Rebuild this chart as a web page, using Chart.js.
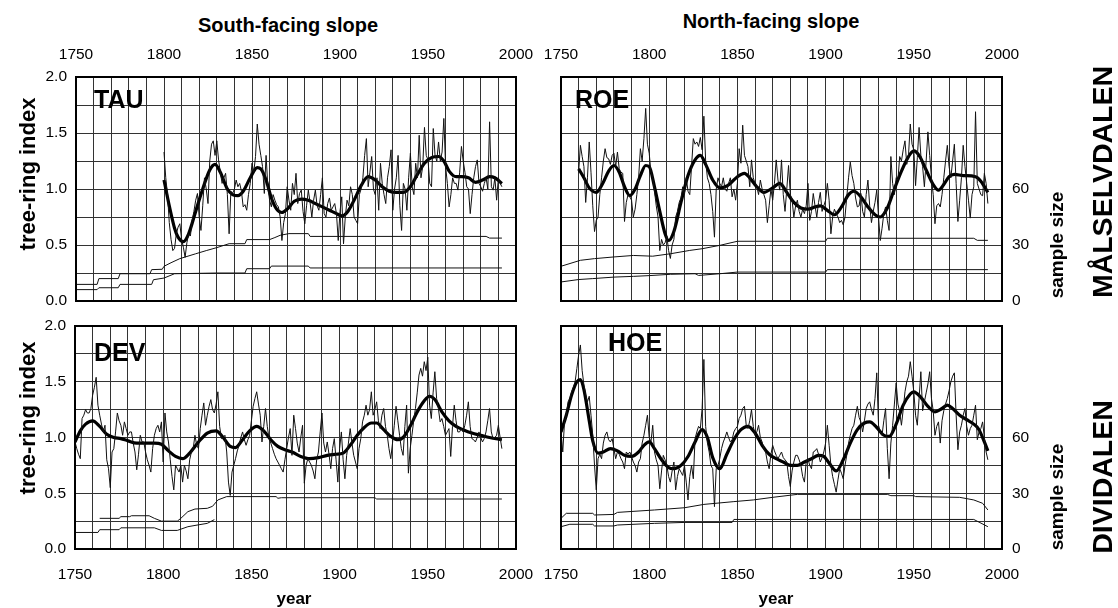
<!DOCTYPE html>
<html>
<head>
<meta charset="utf-8">
<script src="https://cdn.jsdelivr.net/npm/chart.js"></script>
<style>
  html, body { margin: 0; padding: 0; background: #fff; }
  body { width: 1118px; height: 608px; position: relative; overflow: hidden; font-family: 'Liberation Sans', Arial, sans-serif; color: #000; }
  canvas { position: absolute; }
  .lbl { position: absolute; font-weight: bold; white-space: nowrap; line-height: 1; z-index: 2; }
  .ctr { transform: translate(-50%, -50%); }
  .rot { transform: translate(-50%, -50%) rotate(-90deg); }
</style>
</head>
<body>
<canvas id="tau" width="540" height="272" style="left:0;top:40px"></canvas>
<canvas id="roe" width="578" height="272" style="left:540px;top:40px"></canvas>
<canvas id="dev" width="540" height="296" style="left:0;top:312px"></canvas>
<canvas id="hoe" width="578" height="296" style="left:540px;top:312px"></canvas>

<div class="lbl ctr" style="left:288px;top:25px;font-size:20px">South-facing slope</div>
<div class="lbl ctr" style="left:771px;top:21px;font-size:20px">North-facing slope</div>
<div class="lbl" style="left:94px;top:87px;font-size:25px">TAU</div>
<div class="lbl" style="left:575px;top:87px;font-size:25px">ROE</div>
<div class="lbl" style="left:94px;top:340px;font-size:25px">DEV</div>
<div class="lbl" style="left:608px;top:330px;font-size:25px">HOE</div>
<div class="lbl rot" style="left:28px;top:174px;font-size:22px">tree-ring index</div>
<div class="lbl rot" style="left:28px;top:418px;font-size:22px">tree-ring index</div>
<div class="lbl ctr" style="left:294px;top:598px;font-size:17px">year</div>
<div class="lbl ctr" style="left:776px;top:598px;font-size:17px">year</div>
<div class="lbl rot" style="left:1056px;top:245px;font-size:19px">sample size</div>
<div class="lbl rot" style="left:1056px;top:497px;font-size:19px">sample size</div>
<div class="lbl rot" style="left:1102px;top:182px;font-size:28.5px">MÅLSELVDALEN</div>
<div class="lbl rot" style="left:1102px;top:477px;font-size:28.5px">DIVIDALEN</div>

<script>
// ---- annual tree-ring index (one value per year from the start year) ----
const tauStart = 1800;
const tauRing = [
  1.33, 1.10, 0.95, 0.70, 0.55, 0.45, 0.47, 0.60, 0.66, 0.69,
  0.55, 0.48, 0.39, 0.52, 0.60, 0.58, 0.72, 0.80, 0.90, 0.96,
  0.75, 0.63, 0.85, 1.10, 1.00, 0.87, 1.25, 1.40, 1.43, 1.30,
  1.43, 1.26, 1.15, 1.05, 1.10, 1.14, 0.95, 0.60, 0.98, 0.96,
  1.00, 1.08, 1.02, 1.05, 0.98, 0.84, 0.86, 0.81, 0.95, 1.05,
  1.23, 1.15, 1.29, 1.58, 1.40, 1.30, 1.20, 0.96, 1.30, 1.02,
  0.90, 0.84, 0.95, 0.90, 0.86, 0.84, 0.75, 0.54, 0.70, 0.78,
  1.02, 0.90, 0.81, 1.05, 0.95, 1.14, 0.87, 0.96, 0.99, 0.80,
  0.69, 0.85, 0.99, 0.88, 0.75, 0.90, 0.99, 0.85, 0.81, 0.95,
  1.10, 0.78, 0.75, 0.87, 0.92, 0.81, 0.84, 0.87, 0.78, 0.54,
  0.80, 0.93, 0.51, 0.75, 0.90, 0.85, 1.02, 0.95, 0.75, 0.72,
  0.69, 0.95, 1.00, 1.10, 1.30, 1.45, 1.02, 1.15, 1.29, 1.00,
  0.95, 1.10, 0.81, 1.23, 1.05, 0.95, 0.87, 1.10, 1.20, 1.35,
  0.81, 1.00, 1.10, 1.30, 0.85, 0.63, 1.05, 1.00, 0.81, 1.10,
  1.32, 1.02, 0.95, 1.23, 1.10, 1.48, 1.10, 1.20, 1.55, 1.30,
  1.26, 1.05, 1.02, 1.54, 1.30, 1.25, 1.42, 1.25, 1.33, 1.63,
  1.20, 1.05, 0.84, 0.95, 1.10, 1.05, 1.05, 0.99, 1.15, 1.38,
  1.25, 1.15, 1.02, 1.00, 0.78, 0.95, 1.10, 1.20, 1.26, 1.05,
  1.02, 0.98, 1.05, 1.10, 1.00, 1.60, 1.02, 0.99, 1.10, 0.90,
  1.10, 1.05, 1.02
];
const roeStart = 1760;
const roeRing = [
  1.15, 1.39, 1.29, 1.20, 0.88, 1.10, 1.42, 1.15, 0.85, 0.62,
  0.72, 0.75, 0.95, 1.10, 1.25, 1.36, 1.28, 1.27, 1.22, 1.30,
  1.32, 1.20, 1.33, 1.18, 1.15, 1.14, 0.71, 0.88, 0.95, 0.93,
  0.90, 0.75, 0.82, 0.95, 1.10, 1.36, 1.25, 1.45, 1.72, 1.40,
  1.32, 1.15, 1.10, 0.98, 0.85, 0.75, 0.45, 0.55, 0.50, 0.52,
  0.58, 0.45, 0.38, 0.50, 0.55, 0.75, 0.80, 0.88, 0.92, 1.02,
  0.95, 1.10, 0.98, 0.95, 1.20, 1.45, 1.40, 1.42, 1.38, 1.46,
  1.35, 1.65, 1.25, 1.10, 1.05, 0.95, 0.80, 0.57, 1.00, 1.10,
  1.05, 1.02, 1.10, 1.00, 0.98, 1.05, 1.10, 0.93, 1.00, 0.90,
  1.05, 1.36, 1.23, 1.57, 1.30, 1.25, 1.20, 1.02, 1.26, 1.10,
  1.05, 1.02, 0.95, 1.08, 1.00, 0.95, 0.90, 0.70, 0.85, 1.00,
  0.90, 1.05, 1.26, 1.08, 0.99, 1.26, 0.95, 0.80, 1.00, 1.21,
  0.95, 0.90, 0.75, 0.85, 0.90, 0.80, 0.75, 0.82, 0.78, 0.85,
  1.05, 0.72, 0.80, 0.96, 0.85, 0.75, 0.88, 0.97, 0.80, 0.85,
  0.90, 1.05, 0.90, 0.60, 0.75, 0.82, 0.78, 0.75, 0.70, 0.72,
  0.68, 0.75, 0.93, 1.10, 1.24, 1.12, 1.05, 0.92, 0.84, 0.85,
  0.96, 0.80, 0.75, 0.95, 1.08, 0.85, 0.70, 0.80, 0.88, 0.99,
  0.75, 0.54, 0.65, 0.78, 0.84, 0.72, 0.63, 1.29, 1.05, 0.95,
  1.10, 1.08, 1.29, 1.25, 1.35, 1.43, 1.22, 1.30, 1.58, 1.40,
  1.35, 1.03, 1.28, 1.55, 1.30, 1.20, 1.02, 1.25, 1.51, 1.30,
  1.10, 0.95, 0.69, 0.85, 0.87, 0.84, 0.95, 1.10, 1.25, 1.39,
  1.20, 1.10, 1.25, 1.40, 1.05, 0.71, 0.90, 1.10, 1.39, 1.20,
  1.05, 0.90, 0.74, 0.95, 1.02, 1.69, 1.05, 1.00, 0.95, 0.94,
  1.14, 1.05, 0.87
];
const devStart = 1750;
const devRing = [
  0.96, 0.90, 0.85, 0.81, 1.17, 1.20, 1.25, 1.22, 1.22, 1.26,
  1.38, 1.45, 1.54, 1.29, 1.20, 1.12, 1.05, 1.11, 0.80, 0.72,
  0.55, 0.87, 0.90, 1.05, 1.22, 1.15, 1.11, 1.02, 1.14, 1.08,
  1.02, 1.05, 1.05, 0.95, 0.87, 0.71, 0.85, 1.02, 0.96, 0.96,
  0.87, 0.80, 0.75, 0.69, 0.90, 1.02, 1.08, 1.11, 1.05, 1.14,
  0.78, 1.22, 1.05, 0.96, 0.80, 0.65, 0.53, 0.75, 0.72, 0.69,
  0.75, 0.60, 0.75, 0.70, 0.63, 0.80, 0.87, 0.90, 1.02, 0.93,
  0.90, 1.08, 1.20, 1.31, 1.11, 1.20, 1.28, 1.34, 1.25, 1.22,
  1.30, 1.41, 1.10, 0.99, 1.00, 1.02, 0.87, 0.60, 0.48, 0.69,
  0.75, 0.81, 0.88, 0.93, 1.00, 1.05, 0.98, 0.93, 0.98, 1.02,
  1.15, 1.28, 1.35, 1.41, 1.30, 1.20, 0.96, 1.10, 1.26, 1.10,
  0.99, 0.95, 0.90, 0.85, 0.81, 0.78, 0.75, 0.72, 0.69, 0.80,
  0.90, 1.00, 1.08, 0.84, 1.20, 1.08, 0.95, 0.87, 1.00, 1.11,
  0.59, 0.75, 0.81, 0.78, 0.75, 0.70, 0.63, 0.80, 0.87, 1.05,
  1.22, 0.95, 0.87, 0.96, 0.85, 0.72, 0.90, 0.99, 0.80, 0.60,
  0.90, 1.05, 0.80, 0.63, 0.84, 0.95, 1.08, 0.95, 0.84, 0.78,
  0.72, 0.90, 0.99, 1.14, 1.20, 1.29, 1.20, 1.25, 1.41, 1.20,
  1.25, 1.32, 1.15, 1.08, 1.20, 1.26, 1.10, 1.02, 0.90, 0.81,
  0.95, 1.11, 1.28, 1.15, 1.02, 0.90, 0.84, 1.10, 1.29, 0.68,
  0.90, 1.02, 1.15, 1.26, 1.40, 1.56, 1.62, 1.55, 1.68, 1.60,
  1.72, 1.29, 1.17, 1.40, 1.59, 1.35, 1.26, 1.14, 1.17, 1.10,
  1.02, 1.05, 1.08, 0.83, 1.10, 1.29, 1.15, 1.05, 1.05, 1.08,
  1.05, 1.11, 1.20, 1.32, 1.10, 0.99, 0.98, 0.96, 1.00, 1.05,
  1.00, 0.96, 0.99, 1.05, 1.15, 1.26, 1.05, 0.99, 1.00, 1.02,
  1.11, 1.00, 0.90
];
const hoeStart = 1750;
const hoeRing = [
  1.05, 0.87, 1.14, 1.20, 1.32, 1.35, 1.41, 1.45, 1.50, 1.62,
  1.74, 1.83, 1.60, 1.47, 1.38, 1.32, 1.37, 1.20, 1.02, 0.75,
  0.53, 0.81, 0.85, 0.81, 0.95, 1.02, 1.05, 0.98, 0.96, 0.99,
  0.90, 0.81, 0.87, 0.85, 0.81, 0.78, 0.72, 0.87, 0.85, 0.87,
  0.83, 0.78, 0.75, 0.69, 0.78, 0.81, 0.95, 1.02, 1.11, 1.20,
  1.00, 0.96, 1.11, 0.87, 0.80, 0.75, 0.54, 0.70, 0.84, 0.80,
  0.75, 0.65, 0.60, 0.70, 0.78, 0.53, 0.65, 0.72, 0.69, 0.66,
  0.75, 0.60, 0.44, 0.65, 0.75, 0.63, 0.99, 1.05, 1.10, 1.08,
  1.26, 1.70, 1.10, 0.95, 0.87, 0.75, 0.72, 0.38, 0.72, 0.75,
  0.81, 0.90, 0.96, 1.00, 1.05, 1.00, 0.96, 0.98, 1.05, 1.08,
  1.10, 1.17, 1.20, 1.26, 1.28, 1.11, 1.08, 1.15, 1.25, 1.10,
  1.02, 1.05, 1.11, 1.00, 0.96, 0.90, 0.87, 0.78, 0.72, 0.85,
  0.93, 0.88, 0.84, 0.81, 0.84, 0.87, 0.82, 0.80, 0.78, 0.65,
  0.56, 0.70, 0.78, 0.84, 0.84, 0.80, 0.75, 0.65, 0.60, 0.78,
  0.81, 0.75, 0.72, 0.87, 0.88, 0.90, 0.85, 0.78, 0.82, 0.87,
  0.95, 1.11, 0.93, 0.75, 0.65, 0.58, 0.51, 0.62, 0.72, 0.68,
  0.63, 0.75, 0.84, 0.95, 1.02, 1.08, 1.11, 1.20, 1.28, 1.18,
  1.14, 1.05, 1.15, 1.26, 1.30, 1.32, 1.25, 1.20, 1.35, 1.58,
  1.11, 1.05, 1.02, 1.15, 1.26, 0.90, 0.63, 0.95, 1.11, 1.30,
  1.49, 1.30, 1.23, 1.11, 1.25, 1.41, 1.50, 1.55, 1.68, 1.55,
  1.41, 1.20, 1.11, 1.35, 1.59, 1.24, 1.32, 1.40, 1.48, 1.59,
  1.35, 1.24, 1.02, 1.10, 1.14, 0.95, 1.15, 1.24, 1.30, 1.35,
  1.42, 1.50, 1.55, 1.58, 1.20, 0.89, 1.05, 1.11, 1.20, 1.26,
  1.10, 1.02, 1.08, 1.11, 1.20, 1.29, 0.98, 1.05, 1.08, 1.14,
  1.00, 0.87, 0.80
];

// ---- smoothed curves [year, index] ----
const tauSmooth = [[1800,1.08],[1803,0.85],[1806,0.65],[1808,0.57],[1811,0.53],[1814,0.60],[1818,0.80],[1822,1.00],[1826,1.17],[1829,1.22],[1832,1.15],[1836,1.00],[1839,0.95],[1842,0.94],[1845,0.98],[1849,1.10],[1853,1.19],[1855,1.18],[1858,1.08],[1861,0.92],[1864,0.82],[1867,0.79],[1870,0.82],[1874,0.89],[1878,0.91],[1882,0.90],[1886,0.87],[1890,0.84],[1894,0.81],[1898,0.78],[1901,0.76],[1904,0.79],[1908,0.90],[1912,1.03],[1916,1.11],[1920,1.08],[1924,1.02],[1928,0.98],[1932,0.97],[1936,0.97],[1940,1.02],[1944,1.13],[1948,1.23],[1952,1.28],[1956,1.29],[1959,1.25],[1962,1.16],[1966,1.11],[1969,1.11],[1973,1.10],[1977,1.06],[1981,1.08],[1985,1.11],[1988,1.10],[1992,1.05]];
const roeSmooth = [[1760,1.18],[1763,1.10],[1766,1.01],[1770,0.97],[1774,1.06],[1777,1.16],[1780,1.21],[1783,1.15],[1786,1.02],[1789,0.94],[1792,1.00],[1795,1.12],[1798,1.21],[1800,1.20],[1803,1.02],[1806,0.80],[1809,0.60],[1811,0.54],[1814,0.62],[1818,0.88],[1822,1.12],[1826,1.26],[1829,1.30],[1832,1.22],[1836,1.08],[1840,1.01],[1843,1.02],[1846,1.05],[1850,1.11],[1854,1.14],[1857,1.10],[1861,1.02],[1865,0.97],[1870,1.01],[1874,1.05],[1878,0.97],[1882,0.88],[1886,0.83],[1890,0.82],[1894,0.84],[1897,0.85],[1901,0.81],[1905,0.77],[1909,0.84],[1913,0.95],[1916,0.98],[1920,0.93],[1924,0.84],[1928,0.77],[1931,0.75],[1935,0.83],[1939,1.00],[1943,1.16],[1947,1.29],[1950,1.34],[1953,1.30],[1957,1.17],[1961,1.04],[1964,0.99],[1967,1.04],[1970,1.11],[1973,1.13],[1978,1.12],[1985,1.11],[1988,1.07],[1992,0.97]];
const devSmooth = [[1750,0.96],[1753,1.06],[1756,1.12],[1760,1.15],[1764,1.10],[1768,1.03],[1772,1.00],[1776,0.99],[1780,0.97],[1785,0.95],[1790,0.95],[1795,0.95],[1799,0.94],[1803,0.88],[1807,0.83],[1811,0.81],[1815,0.86],[1820,0.96],[1825,1.04],[1830,1.06],[1834,1.00],[1838,0.92],[1841,0.91],[1845,0.98],[1849,1.06],[1853,1.10],[1857,1.06],[1861,0.98],[1865,0.92],[1869,0.89],[1873,0.87],[1878,0.83],[1883,0.81],[1888,0.82],[1893,0.84],[1898,0.85],[1902,0.86],[1906,0.93],[1910,1.02],[1914,1.09],[1918,1.13],[1921,1.13],[1925,1.07],[1929,1.01],[1933,0.98],[1936,1.00],[1940,1.10],[1944,1.23],[1948,1.33],[1951,1.37],[1954,1.34],[1958,1.23],[1962,1.15],[1966,1.10],[1970,1.07],[1975,1.04],[1980,1.02],[1985,1.00],[1992,0.98]];
const hoeSmooth = [[1750,1.05],[1753,1.20],[1756,1.38],[1759,1.50],[1761,1.52],[1763,1.43],[1766,1.15],[1768,0.97],[1771,0.86],[1774,0.87],[1778,0.90],[1782,0.88],[1786,0.84],[1790,0.83],[1794,0.87],[1797,0.93],[1800,0.96],[1803,0.90],[1807,0.80],[1811,0.73],[1814,0.72],[1818,0.75],[1822,0.83],[1826,0.96],[1830,1.07],[1833,1.00],[1836,0.82],[1840,0.72],[1844,0.85],[1848,0.98],[1852,1.07],[1856,1.10],[1860,1.04],[1864,0.93],[1868,0.85],[1872,0.81],[1876,0.78],[1880,0.75],[1884,0.75],[1888,0.78],[1892,0.81],[1896,0.84],[1899,0.83],[1902,0.77],[1906,0.70],[1910,0.80],[1914,0.95],[1918,1.07],[1922,1.13],[1925,1.14],[1929,1.09],[1933,1.02],[1936,1.01],[1940,1.12],[1944,1.29],[1948,1.39],[1950,1.41],[1954,1.36],[1958,1.28],[1962,1.23],[1966,1.26],[1969,1.29],[1972,1.26],[1976,1.20],[1980,1.16],[1984,1.12],[1987,1.07],[1990,0.96],[1992,0.88]];

// ---- sample size [year, trees] ----
const tauSampleA = [[1750,8.9],[1762,8.9],[1763,12],[1774,12],[1775,14.6],[1792,14.6],[1793,16.8],[1799,17],[1800,18.6],[1804,20.5],[1809,22.7],[1818,25.3],[1824,27],[1830,28.6],[1837,30.7],[1846,30.7],[1847,32.9],[1860,32.9],[1863,34],[1866,35.2],[1871,36.1],[1882,36.1],[1883,34.6],[1983,34.6],[1985,33.7],[1992,33.7]];
const tauSampleB = [[1750,6.1],[1762,6.1],[1763,7.1],[1774,7.1],[1775,8.9],[1793,8.9],[1794,11.4],[1800,12.3],[1806,14.6],[1830,15],[1846,15],[1847,17.3],[1860,17.3],[1861,18.7],[1882,18.7],[1883,17.7],[1992,17.7]];
const roeSampleA = [[1750,18.6],[1761,21.8],[1769,22.7],[1780,23.6],[1791,24.4],[1802,24],[1812,25.3],[1823,27.1],[1830,28],[1840,29.8],[1850,32],[1900,32],[1901,33.6],[1984,33.6],[1986,32.5],[1992,32.5]];
const roeSampleB = [[1750,10.2],[1760,11.5],[1768,12],[1780,12.8],[1791,13.2],[1800,13.6],[1812,14.3],[1826,14.6],[1828,13.7],[1840,14.6],[1850,15.5],[1900,15.5],[1901,16.8],[1992,16.8]];
const devSampleA = [[1764,16.5],[1775,16.5],[1776,17.4],[1781,17.4],[1782,17.9],[1792,17.9],[1795,16.5],[1799,15],[1808,15],[1810,16.5],[1814,20.1],[1818,21.5],[1825,21.9],[1828,23],[1831,26.4],[1836,28.2],[1864,28.2],[1865,27.3],[1867,27.6],[1920,27.6],[1921,26.9],[1992,26.9]];
const devSampleB = [[1750,8.9],[1763,8.9],[1764,10.4],[1775,10.4],[1776,11.4],[1795,11.4],[1799,10],[1808,10],[1814,12],[1820,13],[1825,13.8],[1829,15.8]];
const hoeSampleA = [[1750,16.5],[1753,19.2],[1768,19.2],[1769,18.3],[1780,18.6],[1782,19.7],[1803,21],[1820,22.2],[1831,24],[1848,25.5],[1859,26.4],[1870,27.8],[1884,29.4],[1935,29.4],[1937,28.7],[1950,28.7],[1951,28.2],[1976,27.8],[1984,26.4],[1989,24.6],[1992,21]];
const hoeSampleB = [[1750,12],[1755,13.3],[1768,13.3],[1769,12.4],[1780,12.4],[1782,12.9],[1803,13.8],[1820,14.3],[1847,14.3],[1848,15.9],[1984,15.9],[1992,12]];

// axis ticks
const yearMin = 1750, yearMax = 2000, yearStep = 10, yearLabelEvery = 50;
const indexMax = 2.0, indexStep = 0.25;
const sampleMax = 120, sampleStep = 30, sampleLabelMax = 60;

Chart.defaults.font.family = "'Liberation Sans', Arial, sans-serif";
Chart.defaults.font.size = 15.5;
Chart.defaults.color = '#000';

const GRID = '#333';

const framePlugin = {
  id: 'frame',
  afterDatasetsDraw(chart) {
    const a = chart.chartArea, ctx = chart.ctx;
    ctx.save();
    ctx.strokeStyle = '#000';
    ctx.lineWidth = 2;
    ctx.strokeRect(a.left, a.top, a.right - a.left, a.bottom - a.top);
    ctx.restore();
  }
};

const annual = (start, arr) => arr.map((v, i) => ({ x: start + i, y: v }));
const pairs = arr => arr.map(p => ({ x: p[0], y: p[1] }));

// fixed axis sizes, and no extra padding for labels hanging over the ends
function fixSize(s, w, h) {
  if (w !== null) s.width = w;
  if (h !== null) s.height = h;
  s.paddingLeft = 0; s.paddingRight = 0; s.paddingTop = 0; s.paddingBottom = 0;
}

function makePanel(id, o) {
  const datasets = [
    { data: annual(o.start, o.ring), borderColor: '#111', borderWidth: 1, pointRadius: 0, tension: 0, yAxisID: 'y' },
    { data: pairs(o.smooth), borderColor: '#000', borderWidth: 3.2, pointRadius: 0, cubicInterpolationMode: 'monotone', yAxisID: 'y' },
    { data: pairs(o.sampleA), borderColor: '#111', borderWidth: 1, pointRadius: 0, tension: 0, yAxisID: 'y2' },
    { data: pairs(o.sampleB), borderColor: '#111', borderWidth: 1, pointRadius: 0, tension: 0, yAxisID: 'y2' }
  ];
  new Chart(document.getElementById(id), {
    type: 'line',
    data: { datasets },
    plugins: [framePlugin],
    options: {
      responsive: false,
      animation: false,
      devicePixelRatio: 1,
      events: [],
      layout: { padding: { top: o.padTop, bottom: o.padBottom, left: 0, right: 0 } },
      plugins: { legend: { display: false }, tooltip: { enabled: false } },
      scales: {
        x: {
          type: 'linear', position: o.xPos, min: yearMin, max: yearMax,
          grid: { color: GRID, lineWidth: 1, drawTicks: false },
          border: { display: false },
          ticks: {
            stepSize: yearStep, autoSkip: false, maxRotation: 0, padding: o.xPos === 'top' ? 13 : 16,
            callback: v => (v % yearLabelEvery === 0 ? String(v) : '')
          },
          afterFit: s => fixSize(s, null, o.xHeight)
        },
        y: {
          type: 'linear', position: 'left', min: 0, max: indexMax,
          grid: { color: GRID, lineWidth: 1, drawTicks: false },
          border: { display: false },
          ticks: {
            display: o.leftLabels, stepSize: indexStep, autoSkip: false, padding: 9,
            callback: v => (Math.abs(v * 2 - Math.round(v * 2)) < 1e-9 ? v.toFixed(1) : '')
          },
          afterFit: s => fixSize(s, o.yWidth, null)
        },
        y2: {
          type: 'linear', position: 'right', min: 0, max: sampleMax,
          grid: { display: false, drawTicks: false },
          border: { display: false },
          ticks: {
            display: o.rightLabels, stepSize: sampleStep, autoSkip: false, padding: 10,
            callback: v => (v <= sampleLabelMax ? String(v) : '')
          },
          afterFit: s => fixSize(s, o.y2Width, null)
        }
      }
    }
  });
}

makePanel('tau', { start: tauStart, ring: tauRing, smooth: tauSmooth, sampleA: tauSampleA, sampleB: tauSampleB,
  xPos: 'top', xHeight: 37, padTop: 0, padBottom: 11, yWidth: 76, y2Width: 24, leftLabels: true, rightLabels: false });
makePanel('roe', { start: roeStart, ring: roeRing, smooth: roeSmooth, sampleA: roeSampleA, sampleB: roeSampleB,
  xPos: 'top', xHeight: 37, padTop: 0, padBottom: 11, yWidth: 21, y2Width: 116, leftLabels: false, rightLabels: true });
makePanel('dev', { start: devStart, ring: devRing, smooth: devSmooth, sampleA: devSampleA, sampleB: devSampleB,
  xPos: 'bottom', xHeight: 59, padTop: 14, padBottom: 0, yWidth: 75, y2Width: 24, leftLabels: true, rightLabels: false });
makePanel('hoe', { start: hoeStart, ring: hoeRing, smooth: hoeSmooth, sampleA: hoeSampleA, sampleB: hoeSampleB,
  xPos: 'bottom', xHeight: 59, padTop: 14, padBottom: 0, yWidth: 21, y2Width: 116, leftLabels: false, rightLabels: true });
</script>
</body>
</html>
